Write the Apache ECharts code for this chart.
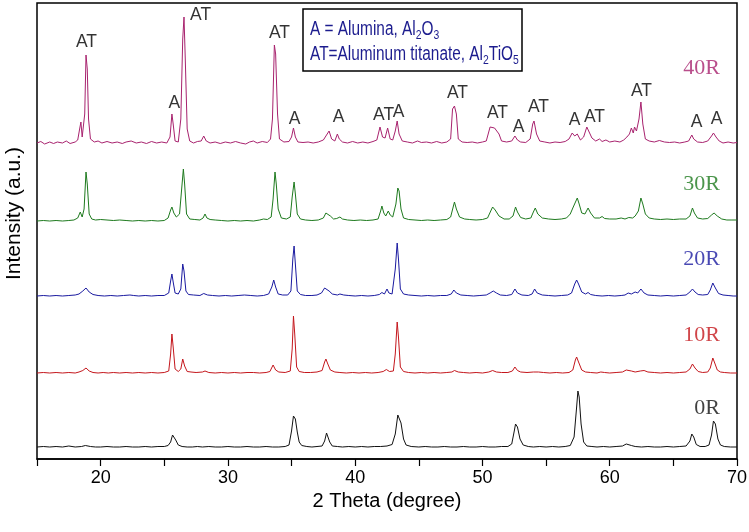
<!DOCTYPE html>
<html><head><meta charset="utf-8">
<script src="https://cdn.jsdelivr.net/npm/echarts@6.0.0/dist/echarts.min.js"></script>
<style>html,body{margin:0;padding:0;background:#fff}#c{width:749px;height:532px}</style>
</head><body><div id="c"></div>
<script>
// ---- data (2 theta, intensity a.u. with stacking offset) ----
const sampleNames = ['0R', '10R', '20R', '30R', '40R'];

const pattern0R = [[15,12],[15.5,12.5],[16,12],[16.5,12.5],[17,12],[17.5,13],[18,12],[18.5,12.5],[18.8,13.5],[19.2,12.5],[19.6,12],[20,12],[20.5,12.5],[21,12],[21.5,12],[22,12.5],[22.5,12],[23,12],[23.5,12.5],[24,12],[24.5,12.5],[25,12.5],[25.3,13.5],[25.5,17],[25.65,24],[25.75,25],[25.9,19],[26.1,14],[26.4,12.5],[26.8,12],[27.2,12],[27.6,12.5],[28,12],[28.5,12.5],[29,12],[29.5,12],[30,12.5],[30.5,12],[31,12],[31.5,12.5],[32,12],[32.5,12],[33,12.5],[33.5,12],[34,12],[34.5,12.5],[34.8,14],[35.0,28],[35.15,43],[35.3,40],[35.45,27],[35.6,17],[35.8,13.5],[36.2,12.5],[36.6,12],[37,12.5],[37.4,13],[37.6,18],[37.75,26],[37.85,25],[38.0,17],[38.2,13],[38.6,12.5],[39,12],[39.5,12.5],[40,12],[40.5,12.5],[41,12],[41.5,12.5],[42,12.5],[42.5,13],[42.9,14.5],[43.15,25],[43.35,44],[43.45,46],[43.6,36],[43.8,20],[44,14],[44.4,12.5],[45,12],[45.5,12.5],[46,12],[46.5,12],[47,12.5],[47.5,12],[48,12],[48.5,12.5],[49,12],[49.5,12],[50,12.5],[50.5,12],[51,12],[51.5,12.5],[52,12.5],[52.3,15],[52.5,28],[52.6,35],[52.75,32],[52.95,20],[53.2,14],[53.6,12.5],[54,12],[54.5,12.5],[55,12],[55.5,12.5],[56,12],[56.5,12.5],[56.9,13.5],[57.2,22],[57.4,52],[57.5,68],[57.6,62],[57.75,35],[57.95,17],[58.2,13],[58.6,12.5],[59,12],[59.5,12.5],[60,12],[60.5,12.5],[61,13],[61.3,15],[61.45,16],[61.7,13.5],[62,12.5],[62.5,12],[63,12.5],[63.5,12],[64,12],[64.5,12.5],[65,12],[65.5,12.5],[66,13],[66.3,18],[66.45,25],[66.6,22],[66.8,14.5],[67.1,12.5],[67.5,12.5],[67.8,14],[68.0,24],[68.15,38],[68.3,35],[68.5,20],[68.7,14],[69,12.5],[69.5,12],[70,12]];

const pattern10R = [[15,86],[15.5,86.5],[16,86],[16.5,86.5],[17,86],[17.5,86.5],[18,86],[18.3,87],[18.6,88.5],[18.85,91],[19.1,88],[19.4,86.5],[19.8,86],[20.2,86.5],[20.6,86],[21,86.5],[21.5,86],[22,86.5],[22.5,86],[23,86.5],[23.5,86],[24,86.5],[24.5,86],[25,86.5],[25.35,88],[25.5,105],[25.6,125],[25.7,112],[25.85,90],[26.1,87.5],[26.3,90],[26.45,100],[26.6,93],[26.8,87.5],[27.1,87],[27.5,86.5],[28,87],[28.2,88],[28.5,86.5],[29,86],[29.5,86.5],[30,86],[30.5,86.5],[31,86],[31.5,86.5],[32,86.5],[32.5,86],[33,86.5],[33.3,87.5],[33.55,94],[33.75,89],[34,87],[34.5,86.5],[34.9,88],[35.05,110],[35.15,143],[35.25,125],[35.4,92],[35.6,87.5],[36,86.5],[36.5,86.5],[37,87],[37.4,88.5],[37.6,97],[37.7,100],[37.85,95],[38.05,89],[38.4,87],[38.8,86.5],[39.3,86],[39.8,86.5],[40.3,86],[40.8,86.5],[41.3,86],[41.8,86.5],[42.2,87.5],[42.45,89.5],[42.7,87.5],[43.0,88],[43.15,105],[43.3,137],[43.4,122],[43.55,92],[43.8,87.5],[44.2,86.5],[44.7,86],[45.2,86.5],[45.7,86],[46.2,86.5],[46.7,86],[47.2,86.5],[47.6,87],[47.8,88.5],[48.1,87],[48.5,86.5],[49,86],[49.5,86.5],[50,86],[50.5,87],[50.8,88.5],[51.1,87],[51.5,86.5],[52,86.5],[52.35,88],[52.55,92],[52.75,88.5],[53,87],[53.5,86.5],[54,87],[54.15,88.5],[54.4,87],[54.8,86.5],[55.3,86],[55.8,86.5],[56.3,86],[56.8,86.5],[57.1,89],[57.3,99],[57.4,102],[57.55,97],[57.8,89],[58.1,87],[58.5,86.5],[59,86],[59.3,87],[59.6,86.5],[60,86],[60.5,86.5],[61,87],[61.3,89],[61.45,91],[61.7,88],[62,87],[62.4,88],[62.7,88.5],[63,87],[63.5,86.5],[64,86],[64.5,86.5],[65,86],[65.5,86.5],[66,87],[66.3,90],[66.5,95],[66.7,91],[66.95,87.5],[67.3,86.5],[67.7,87],[67.9,91],[68.1,101],[68.25,96],[68.45,89],[68.7,87],[69,86.5],[69.5,86],[70,86]];

const pattern20R = [[15,163],[15.5,163.5],[16,163],[16.5,163.5],[17,163],[17.5,163.5],[18,164],[18.3,165],[18.6,168],[18.85,171],[19.1,167],[19.4,164.5],[19.8,163.5],[20.3,163],[20.8,163.5],[21.3,163],[21.8,163.5],[22.3,164],[22.6,163.5],[23,163],[23.5,163.5],[24,163],[24.5,163.5],[25,163.5],[25.35,166],[25.5,178],[25.6,185],[25.7,177],[25.85,166],[26.1,165],[26.3,170],[26.45,195],[26.55,188],[26.7,168],[26.9,164.5],[27.3,164],[27.8,163.5],[28.1,165.5],[28.4,164],[28.8,163.5],[29.3,163],[29.8,163.5],[30.3,163],[30.8,163.5],[31.3,164],[31.8,163.5],[32.3,163],[32.8,163.5],[33.2,165],[33.45,172],[33.6,179],[33.75,172],[33.95,165],[34.3,164],[34.7,164],[34.95,168],[35.1,200],[35.2,213],[35.3,195],[35.45,168],[35.7,164.5],[36.1,163.5],[36.6,163.5],[37,164],[37.35,166],[37.6,171],[37.75,172],[37.95,168],[38.2,165],[38.6,164],[38.8,165],[39.1,164],[39.5,163.5],[40,163],[40.5,163.5],[41,163],[41.5,163.5],[41.9,164.5],[42.1,166.5],[42.3,165],[42.5,170],[42.65,166],[42.9,165],[43.15,190],[43.3,216],[43.4,200],[43.55,170],[43.8,165],[44.2,164],[44.7,163.5],[45.2,163],[45.7,163.5],[46.2,163],[46.7,163.5],[47.2,163.5],[47.55,165],[47.75,169],[47.95,166],[48.3,164],[48.8,163.5],[49.3,163],[49.8,163.5],[50.3,164],[50.6,166],[50.85,168],[51.1,166],[51.4,164],[51.9,163.5],[52.3,164.5],[52.55,170],[52.75,166],[53.1,164],[53.6,163.5],[53.9,165],[54.1,170],[54.3,166],[54.7,164],[55.2,163.5],[55.7,163],[56.2,163.5],[56.7,164],[57.0,166],[57.25,175],[57.4,179],[57.55,175],[57.8,167],[58.1,165],[58.3,166.5],[58.5,164.5],[58.9,163.5],[59.4,163],[59.9,163.5],[60.4,163],[60.9,163.5],[61.2,164],[61.45,166],[61.7,165],[62.0,167],[62.2,166],[62.45,170],[62.7,166],[63,164],[63.5,163.5],[64,163],[64.5,163.5],[65,163],[65.5,163.5],[66,164],[66.3,167],[66.5,170],[66.7,167],[66.95,164.5],[67.3,164],[67.7,164.5],[67.9,169],[68.1,176],[68.3,171],[68.55,165.5],[68.9,164],[69.3,163.5],[69.7,163],[70,163]];

const pattern30R = [[15,238],[15.5,238.5],[16,238],[16.5,238.5],[17,238],[17.5,238.5],[17.9,239],[18.2,241],[18.4,247],[18.55,242],[18.7,250],[18.85,287],[18.95,275],[19.1,245],[19.3,240],[19.6,239],[20,239.5],[20.5,239],[21,238.5],[21.5,239],[22,238.5],[22.5,238],[23,238.5],[23.5,238],[24,238.5],[24.5,238],[25,238.5],[25.3,241],[25.5,249],[25.6,252],[25.75,246],[25.95,242],[26.2,245],[26.4,275],[26.5,290],[26.6,275],[26.75,245],[27,240],[27.4,239.5],[27.8,239],[28.05,241],[28.2,245],[28.35,241],[28.6,239.5],[29,239],[29.5,238.5],[30,238],[30.5,238.5],[31,238],[31.5,238.5],[32,238],[32.5,239],[32.8,240],[33.1,239.5],[33.4,242],[33.55,260],[33.7,287],[33.8,275],[33.95,250],[34.2,241],[34.6,240],[34.9,242],[35.05,262],[35.2,277],[35.3,265],[35.45,245],[35.7,240],[36.1,239],[36.6,238.5],[37.1,239],[37.5,241],[37.7,246],[37.85,247],[38.05,243],[38.3,240],[38.55,240.5],[38.8,242],[39.0,240],[39.4,239],[39.9,238.5],[40.4,239],[40.9,238.5],[41.4,239],[41.8,240],[42.0,248],[42.1,253],[42.25,246],[42.4,243],[42.6,248],[42.75,244],[42.95,242],[43.2,255],[43.35,271],[43.45,268],[43.6,250],[43.8,241],[44.2,239.5],[44.7,239],[45.2,238.5],[45.7,239],[46.2,238.5],[46.7,239],[47.2,239.5],[47.5,242],[47.7,252],[47.8,257],[47.95,250],[48.2,242],[48.6,240],[49,239.5],[49.5,239],[50,239.5],[50.4,241],[50.65,248],[50.8,252],[51.0,249],[51.3,243],[51.7,240],[52.1,240],[52.4,243],[52.6,252],[52.75,247],[53,241.5],[53.4,240],[53.8,241],[54.0,247],[54.15,251],[54.35,245],[54.7,241],[55.2,240],[55.7,239.5],[56.2,240],[56.6,241],[56.9,245],[57.1,251],[57.25,249],[57.45,261],[57.6,255],[57.8,246],[58.05,245],[58.3,251],[58.5,246],[58.8,241],[59.2,241],[59.4,242.5],[59.6,240.5],[60.0,240],[60.5,240],[60.9,241],[61.2,240],[61.5,241.5],[61.8,241],[62.0,243],[62.25,248],[62.45,261],[62.6,255],[62.8,245],[63.1,241],[63.5,240],[64,239.5],[64.5,240],[65,239.5],[65.5,240],[66,240],[66.3,243],[66.5,251],[66.65,246],[66.9,241],[67.3,240],[67.7,240.5],[68.0,244],[68.2,246],[68.45,243],[68.8,240],[69.2,239],[69.6,239],[70,239]];

const pattern40R = [[15,316],[15.3,317.5],[15.6,315],[16,317],[16.3,315.5],[16.6,317],[17,316],[17.3,318],[17.6,315.5],[18.0,317],[18.2,319],[18.35,330],[18.45,337],[18.55,322],[18.65,320],[18.75,345],[18.85,404],[18.95,390],[19.05,340],[19.2,320],[19.5,317],[19.8,318],[20.1,316],[20.5,317.5],[20.9,316],[21.3,317],[21.7,315.5],[22.0,317],[22.4,318],[22.8,316],[23.2,317],[23.6,315.5],[24.0,317.5],[24.4,316],[24.8,317],[25.2,316],[25.45,322],[25.6,345],[25.7,335],[25.85,318],[26.1,317],[26.3,340],[26.45,420],[26.55,442],[26.65,400],[26.8,330],[27.0,318],[27.3,316],[27.6,317.5],[27.9,318],[28.1,323],[28.3,318],[28.6,316],[29.0,317],[29.4,315.5],[29.8,317],[30.2,316],[30.6,317.5],[31.0,316],[31.4,315],[31.7,317],[32.0,318],[32.3,316],[32.7,317.5],[33.1,316.5],[33.35,320],[33.5,340],[33.65,414],[33.75,405],[33.9,345],[34.05,320],[34.4,317],[34.8,317.5],[35.0,322],[35.15,331],[35.3,322],[35.5,317],[35.9,316.5],[36.3,317],[36.7,316],[37.1,317],[37.5,319],[37.8,325],[37.95,328],[38.15,320],[38.4,318],[38.6,325],[38.75,320],[39.0,317],[39.4,316],[39.8,317.5],[40.2,316],[40.6,317],[41.0,316],[41.4,317.5],[41.7,319],[41.95,332],[42.15,322],[42.35,321],[42.55,331],[42.75,320],[42.95,319],[43.15,328],[43.3,338],[43.45,325],[43.7,318],[44.1,317],[44.5,316],[44.9,318],[45.2,316.5],[45.6,317],[46.0,316],[46.4,317.5],[46.8,316],[47.2,317],[47.5,320],[47.65,350],[47.8,353],[47.95,345],[48.1,320],[48.4,317],[48.8,316.5],[49.2,317],[49.6,316],[50.0,317],[50.3,318],[50.6,332],[50.75,334],[50.95,331],[51.1,333],[51.3,325],[51.5,318],[51.9,317],[52.3,318],[52.55,323],[52.75,319],[53.0,317],[53.4,316.5],[53.75,320],[53.95,335],[54.05,338],[54.25,325],[54.5,318],[54.9,317],[55.3,316],[55.7,317],[56.1,316.5],[56.5,317.5],[56.8,320],[57.05,326],[57.25,323],[57.45,325],[57.7,319],[57.95,322],[58.2,332],[58.35,330],[58.6,321],[58.9,318],[59.2,320],[59.4,317.5],[59.7,319],[60.0,317],[60.4,318],[60.8,317],[61.1,319],[61.35,322],[61.55,325],[61.7,331],[61.85,326],[61.95,332],[62.1,328],[62.3,340],[62.45,357],[62.6,335],[62.8,320],[63.1,318],[63.5,317],[63.9,318.5],[64.3,317],[64.7,316.5],[65.1,317],[65.5,316],[65.9,317],[66.2,318],[66.45,324],[66.6,320],[66.9,317],[67.3,316.5],[67.7,318],[68.0,323],[68.15,326],[68.35,322],[68.6,318],[68.9,316],[69.3,317],[69.7,316],[70,316.5]];

const patterns = [pattern0R, pattern10R, pattern20R, pattern30R, pattern40R];

// phase labels: [2theta, intensity, text]
const peakLabels = [[18.89,417,'AT'],[25.80,356,'A'],[27.85,444,'AT'],[34.05,426,'AT'],[35.23,340,'A'],[38.69,342,'A'],[42.23,344,'AT'],[43.41,347,'A'],[48.04,366,'AT'],[51.18,346,'AT'],[52.83,332,'A'],[54.40,352,'AT'],[57.23,339,'A'],[58.80,342,'AT'],[62.49,368,'AT'],[66.82,337,'A'],[68.39,340,'A']];

const sampleLabelX = 68.7;
const sampleLabelY = [51, 124, 200, 275, 391];
const xTicks = [20, 30, 40, 50, 60, 70];

// ---- styles ----
const colors = ['#111111', '#C4161C', '#1A1AA0', '#1E7A1E', '#A8226E'];
const sans = "'Liberation Sans', Arial, sans-serif";
const navy = '#1C1C8E';

const chart = echarts.init(document.getElementById('c'), null, {renderer: 'canvas'});

const lineSeries = patterns.map((p, i) => ({
  name: sampleNames[i], type: 'line', data: p, showSymbol: false, symbol: 'none',
  lineStyle: {color: colors[i], width: 1}, itemStyle: {color: colors[i]},
  animation: false, silent: true, z: 2
}));

const peakSeries = {
  type: 'scatter', symbolSize: 1, itemStyle: {color: 'rgba(0,0,0,0)'}, silent: true, clip: false, z: 5,
  data: peakLabels.map(d => ({value: [d[0], d[1]], name: d[2]})),
  label: {show: true, position: 'inside', formatter: '{b}', color: '#000',
    fontFamily: sans, fontSize: 17.5}
};

const sampleSeries = {
  type: 'scatter', symbolSize: 1, itemStyle: {color: 'rgba(0,0,0,0)'}, silent: true, clip: false, z: 5,
  data: sampleNames.map((n, i) => ({value: [sampleLabelX, sampleLabelY[i]], name: n,
    label: {color: colors[i]}})),
  label: {show: true, position: 'left', distance: 0, formatter: '{b}',
    fontFamily: "'Liberation Serif', 'Times New Roman', serif", fontSize: 22}
};

chart.setOption({
  animation: false,
  backgroundColor: '#fff',
  grid: {left: 37, right: 12, top: 3, bottom: 73, show: true, borderColor: '#000', borderWidth: 1.5,
    containLabel: false, outerBoundsMode: 'none'},
  xAxis: {
    type: 'value', min: 15, max: 70, interval: 5,
    name: '2 Theta (degree)', nameLocation: 'middle', nameGap: 31,
    nameTextStyle: {fontFamily: sans, fontSize: 20, color: '#000'},
    axisLine: {show: true, lineStyle: {color: '#000', width: 1.5}},
    axisTick: {show: true, inside: false, length: 7, lineStyle: {color: '#000', width: 1.2}},
    axisLabel: {show: true, margin: 10, color: '#000', fontSize: 18, fontFamily: sans,
      formatter: v => xTicks.includes(v) ? String(v) : ''},
    splitLine: {show: false}
  },
  yAxis: {
    type: 'value', min: 0, max: 456, show: false, splitLine: {show: false}
  },
  series: [...lineSeries, peakSeries, sampleSeries],
  graphic: [
    {type: 'text', left: 4, top: 147, rotation: Math.PI / 2,
     style: {text: 'Intensity (a.u.)', fontFamily: sans, fontSize: 21, fill: '#000'}, z: 10},
    {type: 'rect', shape: {x: 303, y: 9, width: 219, height: 62},
     style: {fill: '#fff', stroke: '#000', lineWidth: 1.5}, z: 10},
    {type: 'text', x: 310, y: 17, scaleX: 0.77, scaleY: 1, z: 11,
     style: {
       text: '{m|A = Alumina, Al}{s|2}{m|O}{s|3}\n{m|AT=Aluminum titanate, Al}{s|2}{m|TiO}{s|5}',
       fill: navy, verticalAlign: 'top', align: 'left',
       rich: {
         m: {fontFamily: sans, fontSize: 20, lineHeight: 25, fill: navy, verticalAlign: 'middle'},
         s: {fontFamily: sans, fontSize: 13.5, lineHeight: 12, fill: navy, verticalAlign: 'bottom'}
       }
     }}
  ]
});
</script>
</body></html>
